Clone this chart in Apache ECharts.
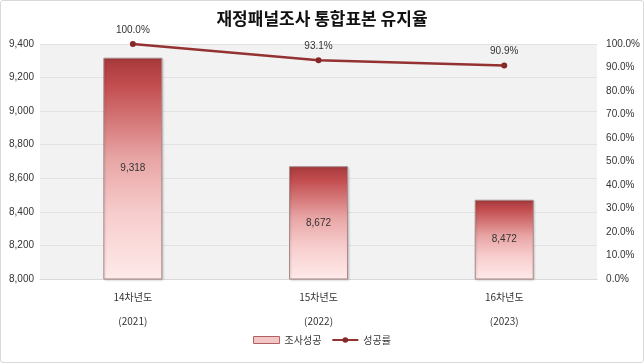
<!DOCTYPE html>
<html><head><meta charset="utf-8">
<script src="https://cdn.jsdelivr.net/npm/echarts@6/dist/echarts.min.js"></script>
<style>html,body{margin:0;padding:0;background:#fff}#c{width:642px;height:361px;border:1px solid #d9d9d9;border-radius:3px}</style>
</head><body><div id="c"></div>
<script>
const categories = ['14차년도\n\n(2021)', '15차년도\n\n(2022)', '16차년도\n\n(2023)'];
const surveyCounts = [9318, 8672, 8472];
const retentionRates = [100.0, 93.1, 90.9];
const leftTicks = [8000, 9400, 200];
const rightTicks = [0, 100, 10];

const font = '"Liberation Sans", Arial, "Noto Sans CJK KR", sans-serif';
const chart = echarts.init(document.getElementById('c'), null, {renderer: 'canvas'});
const barGrad = new echarts.graphic.LinearGradient(0, 0, 0, 1, [
  {offset: 0, color: '#a63a3c'},
  {offset: 0.12, color: '#c24c4e'},
  {offset: 0.45, color: '#e8a4a4'},
  {offset: 0.7, color: '#f7cccc'},
  {offset: 1, color: '#ffeaea'}
]);
chart.setOption({
  animation: false,
  textStyle: {fontFamily: font},
  title: {
    text: '재정패널조사 통합표본 유지율', left: 'center', top: 4,
    textStyle: {fontSize: 17, fontWeight: 'bold', color: '#111', fontFamily: '"Noto Sans CJK KR", sans-serif'}
  },
  legend: {
    bottom: 12, left: 'center', itemGap: 10, itemWidth: 26, itemHeight: 7,
    textStyle: {fontSize: 10, color: '#333', fontFamily: '"Noto Sans CJK KR", sans-serif'},
    data: [
      {name: '조사성공', icon: 'rect', itemStyle: {color: '#f3c6c6', borderColor: '#b06060', borderWidth: 1}},
      {name: '성공률'}
    ]
  },
  grid: {left: 39, right: 42, top: 43, bottom: 83},
  xAxis: {
    type: 'category', data: categories,
    axisLine: {lineStyle: {color: '#d9d9d9'}}, axisTick: {show: false},
    axisLabel: {fontSize: 10, color: '#333', margin: 12, lineHeight: 12, fontFamily: '"Noto Sans CJK KR", sans-serif'},
    splitArea: {show: false}
  },
  yAxis: [
    {
      type: 'value', min: leftTicks[0], max: leftTicks[1], interval: leftTicks[2],
      axisLabel: {fontSize: 10, color: '#333', align: 'left', margin: 31,
        formatter: v => v.toLocaleString('en-US')},
      axisLine: {show: false}, axisTick: {show: false},
      splitLine: {lineStyle: {color: '#e2e2e2'}},
      splitArea: {show: true, areaStyle: {color: ['#f2f2f2', '#f2f2f2']}}
    },
    {
      type: 'value', min: rightTicks[0], max: rightTicks[1], interval: rightTicks[2],
      axisLabel: {fontSize: 10, color: '#333', margin: 9, formatter: v => v.toFixed(1) + '%'},
      axisLine: {show: false}, axisTick: {show: false}, splitLine: {show: false}
    }
  ],
  series: [
    {
      name: '조사성공', type: 'bar', data: surveyCounts, barWidth: 59, yAxisIndex: 0,
      itemStyle: {color: barGrad, borderColor: '#a98a8a', borderWidth: 1,
        shadowColor: 'rgba(0,0,0,0.15)', shadowBlur: 2, shadowOffsetX: 1, shadowOffsetY: 1},
      label: {show: true, position: 'inside', fontSize: 10, color: '#333',
        formatter: p => p.value.toLocaleString('en-US')}
    },
    {
      name: '성공률', type: 'line', data: retentionRates, yAxisIndex: 1,
      symbol: 'circle', symbolSize: 6,
      lineStyle: {color: '#943232', width: 2.5},
      itemStyle: {color: '#862828'},
      label: {show: true, position: 'top', distance: 6, fontSize: 10, color: '#333',
        formatter: p => p.value.toFixed(1) + '%'}
    }
  ]
});
</script></body></html>
